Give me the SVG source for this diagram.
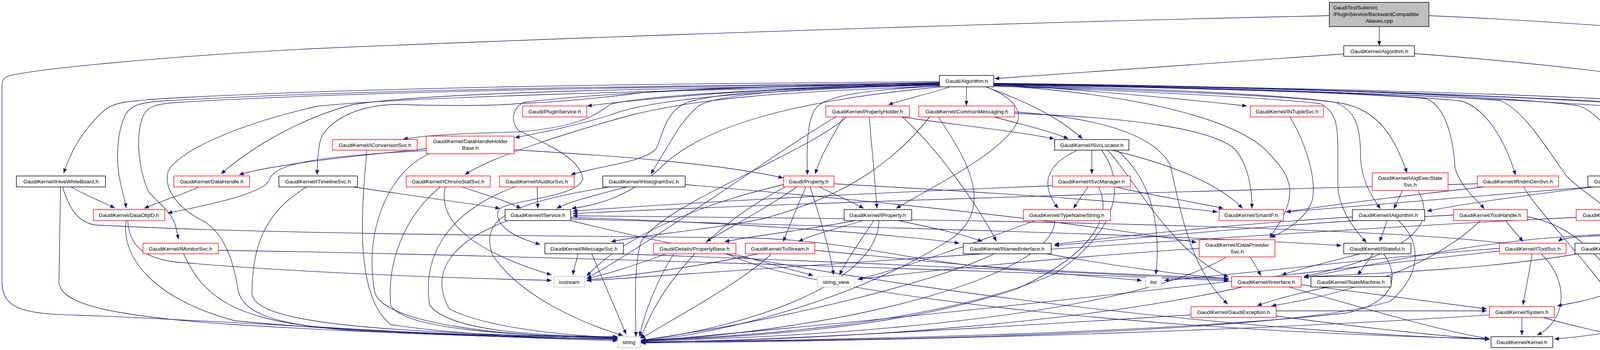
<svg xmlns="http://www.w3.org/2000/svg" width="4857" height="895" viewBox="0 0 4857 895">
<style>
.e{fill:none;stroke:#191970;stroke-width:1.3;marker-end:url(#a)}
.nb rect{fill:#fff;stroke:#000;stroke-width:1.4}
.nr rect{fill:#fff;stroke:#ff0000;stroke-width:1.4}
.ng rect{fill:#fff;stroke:#bfbfbf;stroke-width:1.4}
.nm rect{fill:#bfbfbf;stroke:#000;stroke-width:1.4}
text{font-family:"Liberation Sans",Arial,Helvetica,sans-serif;font-size:13.6px;fill:#000;text-anchor:middle}
text.l{text-anchor:start}
</style>
<defs>
<marker id="a" viewBox="0 0 12 10" refX="12" refY="5" markerWidth="12" markerHeight="10" orient="auto" markerUnits="userSpaceOnUse"><path d="M0,0 L12,5 L0,10 z" fill="#191970"/></marker>
</defs>
<rect x="0" y="0" width="4857" height="895" fill="#fff"/>
<g id="connectors">
<path class="e" d="M3531,68 L3531,117"/>
<path class="e" d="M3403,40 C2500,60 1500,95 810,124 C400,145 60,180 20,195 C8,200 5,208 5,220 L5,720 C5,790 60,803 200,806 C600,820 1100,860 1581,871"/>
<path class="e" d="M3658,40 C4000,55 4500,90 4700,130 C4820,158 4854,190 4854,235 L4854,730 C4854,790 4800,812 4650,836 C4500,856 4350,866 4259,870"/>
<path class="e" d="M3440,138 C3100,160 2800,185 2546,201"/>
<path class="e" d="M3621,137 C4000,165 4450,220 4515,262 C4535,280 4538,300 4538,330 L4538,400 C4540,450 4568,500 4582,535"/>
<path class="e" d="M2405,211 C2100,220 1750,240 1503,271"/>
<path class="e" d="M2432,222 C2380,240 2320,252 2274,268"/>
<path class="e" d="M2474,222 L2474,270"/>
<path class="e" d="M2544,215 C2800,232 3000,250 3192,271"/>
<path class="e" d="M2405,215 C1900,228 1620,248 1560,268 C1520,300 1470,325 1330,337 C1200,341 1100,344 1032,356"/>
<path class="e" d="M2405,217 C1900,232 1660,255 1560,295 C1460,325 1380,340 1318,352"/>
<path class="e" d="M2523,222 C2600,250 2700,290 2771,355"/>
<path class="e" d="M2544,217 C2900,225 3300,240 3440,265 C3530,285 3570,350 3602,442"/>
<path class="e" d="M2405,209 C1600,214 900,225 420,252 C330,258 290,262 270,280 C212,330 180,390 163,443"/>
<path class="e" d="M2405,216 C1700,225 1100,235 900,268 C780,300 650,370 566,445"/>
<path class="e" d="M2405,212 C2000,220 1700,228 1620,240 C1500,255 1400,262 1326,265 C1250,272 1100,270 1017,267 C900,268 830,320 820,360 C813,390 812,420 812,447"/>
<path class="e" d="M2405,220 C2000,235 1800,250 1620,293 C1450,340 1260,400 1190,447"/>
<path class="e" d="M2405,214 C2000,225 1780,240 1740,272 C1700,300 1695,350 1680,380 C1650,415 1530,425 1461,447"/>
<path class="e" d="M2405,216 C2000,225 1830,245 1790,270 C1740,310 1720,360 1666,445"/>
<path class="e" d="M2405,220 C2250,228 2120,240 2090,275 C2065,305 2065,380 2067,447"/>
<path class="e" d="M2544,214 C3000,222 3500,235 3740,258 C3800,275 3850,350 3880,448"/>
<path class="e" d="M2544,213 C3200,222 3800,240 4040,270 C4100,290 4150,370 4169,447"/>
<path class="e" d="M2405,212 C1600,220 900,230 420,258 C360,262 335,268 320,295 C300,340 297,400 305,450 C312,490 320,510 323,532"/>
<path class="e" d="M2410,222 C2000,260 1800,330 1700,420 C1640,480 1560,522 1463,533"/>
<path class="e" d="M2523,222 C2600,250 2620,290 2600,320 C2560,390 2420,460 2294,533"/>
<path class="e" d="M2544,219 C2900,228 3300,245 3420,262 C3470,285 3483,320 3483,400 C3485,460 3510,500 3534,534"/>
<path class="e" d="M2544,220 C2900,232 3250,250 3380,265 C3420,285 3425,320 3425,380 L3425,480 C3430,540 3470,590 3498,620"/>
<path class="e" d="M2544,216 C3000,224 3450,236 3650,252 C3700,270 3720,350 3725,430 C3740,480 3780,510 3800,534"/>
<path class="e" d="M2544,215 C3000,222 3600,238 3840,257 C3900,280 3960,380 4010,450 C4050,490 4090,510 4112,534"/>
<path class="e" d="M2405,214 C1600,222 900,235 450,262 C400,266 375,272 365,300 C350,340 350,420 380,490 C405,520 440,540 450,580 L457,612"/>
<path class="e" d="M2405,213 C1900,220 1500,240 1340,262 C1305,280 1310,320 1330,335 C1400,370 1480,400 1492,455 C1490,500 1330,510 1285,530 C1260,545 1270,595 1383,625"/>
<path class="e" d="M2544,218 C2900,240 3150,300 3240,383 C3275,420 3302,450 3302,490 C3300,545 3265,585 3250,608"/>
<path class="e" d="M2544,216 C3200,225 3900,250 4250,282 C4312,300 4330,340 4330,400 L4330,520 C4330,580 4200,600 4050,605 C4010,607 3996,612 3989,618"/>
<path class="e" d="M2544,215 C3200,222 3950,245 4300,275 C4360,292 4380,330 4380,400 L4380,470 C4380,540 4270,585 4200,618"/>
<path class="e" d="M2544,214 C3200,221 4000,240 4360,268 C4420,285 4431,330 4431,400 L4431,480 C4431,620 4250,720 4050,770 C4020,776 4000,780 3986,782"/>
<path class="e" d="M2544,213 C3300,220 4000,252 4360,273 C4500,275 4580,248 4680,252 C4770,256 4804,290 4804,350 L4804,740 C4804,800 4720,825 4600,840 C4450,858 4330,866 4259,870"/>
<path class="e" d="M2405,218 C1700,230 1000,250 810,272 C600,320 450,390 430,440 C420,480 450,530 520,565 C580,600 600,680 610,745 C625,800 700,830 900,845 C1200,860 1450,866 1581,868"/>
<path class="e" d="M2307,299 C2450,320 2600,335 2699,355"/>
<path class="e" d="M2160,299 C2130,350 2100,400 2087,445"/>
<path class="e" d="M2225,299 C2232,380 2240,460 2245,533"/>
<path class="e" d="M2140,299 C2000,380 1700,600 1502,712"/>
<path class="e" d="M2168,299 C2050,400 1700,520 1640,620 C1620,700 1628,800 1628,861"/>
<path class="e" d="M2310,299 C2400,380 2500,520 2551,617"/>
<path class="e" d="M2545,299 C2620,320 2690,335 2735,355"/>
<path class="e" d="M2597,290 C2900,300 3100,330 3160,380 C3195,420 3205,480 3205,533"/>
<path class="e" d="M2597,286 C2800,300 2950,340 2995,420 C3020,520 3040,680 3143,778"/>
<path class="e" d="M2380,299 C2300,400 2180,500 1950,560 C1800,590 1650,600 1564,618"/>
<path class="e" d="M2402,299 C2470,400 2560,540 2420,620 C2200,760 1850,855 1641,872"/>
<path class="e" d="M3302,299 C3340,360 3370,450 3360,510 C3345,560 3290,590 3253,608"/>
<path class="e" d="M939,384 C930,500 900,750 1000,830 C1200,860 1450,866 1581,866"/>
<path class="e" d="M1091,380 C900,400 700,420 612,447"/>
<path class="e" d="M1091,385 C800,400 700,420 690,460 C670,500 500,530 429,545"/>
<path class="e" d="M1316,383 C1600,400 1850,420 2005,455"/>
<path class="e" d="M1100,393 C990,440 930,600 960,750 C990,830 1300,862 1581,864"/>
<path class="e" d="M182,478 C220,500 260,515 294,532"/>
<path class="e" d="M160,478 C180,540 200,565 240,575 C600,595 1200,602 1900,608 C2150,612 2300,660 2500,680 C2800,700 3000,705 3145,712"/>
<path class="e" d="M155,478 L151,720 C150,780 300,810 600,830 C1000,855 1400,865 1581,866"/>
<path class="e" d="M510,478 C460,500 410,515 369,533"/>
<path class="e" d="M905,478 C1050,500 1200,520 1280,533"/>
<path class="e" d="M785,478 C700,530 645,600 645,750 C650,820 900,850 1581,864"/>
<path class="e" d="M1182,478 C1250,500 1300,515 1334,533"/>
<path class="e" d="M1127,478 C1050,540 990,650 1000,780 C1030,840 1300,860 1581,862"/>
<path class="e" d="M1140,478 C1120,560 1200,640 1412,703"/>
<path class="e" d="M1375,478 L1377,533"/>
<path class="e" d="M1318,478 C1150,540 1080,650 1100,780 C1150,850 1400,860 1581,861"/>
<path class="e" d="M1605,478 C1520,500 1460,515 1425,533"/>
<path class="e" d="M1754,472 C2200,510 2700,560 3063,620"/>
<path class="e" d="M1560,478 C1300,520 1230,560 1260,650 C1330,760 1500,830 1595,858"/>
<path class="e" d="M2040,478 C1950,540 1870,580 1808,618"/>
<path class="e" d="M2063,478 C2040,530 2020,580 2005,618"/>
<path class="e" d="M2074,478 C2100,560 2125,640 2134,703"/>
<path class="e" d="M2098,478 C2140,500 2180,515 2211,533"/>
<path class="e" d="M2135,470 C2500,490 2900,515 3117,542"/>
<path class="e" d="M2006,472 C1800,520 1600,600 1502,706"/>
<path class="e" d="M2010,478 C1850,560 1700,700 1640,866"/>
<path class="e" d="M2190,564 C2050,590 1950,600 1855,618"/>
<path class="e" d="M2210,564 C2140,585 2080,600 2044,618"/>
<path class="e" d="M2237,564 C2200,620 2170,660 2149,703"/>
<path class="e" d="M2250,564 C2250,700 2000,820 1641,872"/>
<path class="e" d="M2300,564 C2400,585 2470,600 2515,618"/>
<path class="e" d="M2795,384 L2795,445"/>
<path class="e" d="M2758,384 C2680,420 2660,470 2709,533"/>
<path class="e" d="M2845,384 C3000,420 3120,470 3181,533"/>
<path class="e" d="M2860,384 C2960,470 2970,600 2959,702"/>
<path class="e" d="M2835,384 C2900,450 3000,650 3145,708"/>
<path class="e" d="M2820,384 C2890,480 2850,600 2700,700 C2400,830 1900,862 1641,870"/>
<path class="e" d="M2785,478 C2772,498 2760,515 2748,533"/>
<path class="e" d="M2855,478 C2950,500 3050,515 3132,533"/>
<path class="e" d="M2694,475 C2300,490 1800,515 1466,540"/>
<path class="e" d="M2812,478 C2850,550 2800,650 2600,740 C2300,840 1900,865 1641,870"/>
<path class="e" d="M3590,487 C3582,505 3575,520 3568,534"/>
<path class="e" d="M3630,487 C3670,560 3650,640 3338,707"/>
<path class="e" d="M3800,478 C3600,500 3400,525 3292,542"/>
<path class="e" d="M3782,470 C3000,490 2000,520 1466,546"/>
<path class="e" d="M3900,478 C3950,560 4100,700 4196,865"/>
<path class="e" d="M4160,478 C4155,500 4150,515 4146,534"/>
<path class="e" d="M4080,478 C3900,500 3750,520 3653,540"/>
<path class="e" d="M4075,478 C3800,500 3500,525 3292,542"/>
<path class="e" d="M4282,477 C4600,490 4750,520 4760,600 L4760,790 C4740,840 4400,862 4259,870"/>
<path class="e" d="M4200,478 C4300,530 4260,590 4100,600 C3800,610 3500,680 3338,710"/>
<path class="e" d="M4215,564 C4330,580 4420,600 4466,618"/>
<path class="e" d="M4035,556 C3500,580 2500,650 1502,718"/>
<path class="e" d="M4575,564 C4555,585 4540,600 4523,618"/>
<path class="e" d="M4590,564 C4580,700 4400,830 3979,867"/>
<path class="e" d="M3922,649 C3915,700 3905,740 3899,780"/>
<path class="e" d="M3945,649 C4020,720 4010,820 3935,857"/>
<path class="e" d="M3839,635 C3500,660 3200,700 2980,717"/>
<path class="e" d="M3839,642 C3300,700 2500,800 1641,873"/>
<path class="e" d="M3850,622 C3500,580 2500,560 1466,552"/>
<path class="e" d="M4040,649 C3800,690 3500,700 3338,708"/>
<path class="e" d="M559,640 C1200,650 2500,690 3145,718"/>
<path class="e" d="M470,649 C520,760 600,810 800,835 C1100,855 1400,862 1581,862"/>
<path class="e" d="M323,564 C310,650 380,760 600,820 C900,850 1300,860 1581,868"/>
<path class="e" d="M327,564 C330,620 360,660 450,670 C800,700 1200,712 1412,717"/>
<path class="e" d="M1300,564 C1150,620 1100,700 1150,790 C1250,840 1450,858 1581,863"/>
<path class="e" d="M1461,556 C1900,570 2300,600 2456,622"/>
<path class="e" d="M1461,560 C2200,580 3000,600 3434,628"/>
<path class="e" d="M1461,564 C2000,700 3000,840 3813,868"/>
<path class="e" d="M1480,649 C1475,670 1470,685 1466,703"/>
<path class="e" d="M1515,649 C1550,730 1580,800 1603,855"/>
<path class="e" d="M1580,649 C2200,670 2800,700 3145,715"/>
<path class="e" d="M1880,649 C1950,670 2030,690 2082,705"/>
<path class="e" d="M1705,649 C1620,680 1560,700 1502,712"/>
<path class="e" d="M1725,649 C1680,720 1650,800 1637,860"/>
<path class="e" d="M1860,649 C2100,760 3000,850 3813,866"/>
<path class="e" d="M1975,649 C1900,720 1750,800 1640,866"/>
<path class="e" d="M1940,649 C1800,680 1650,700 1502,716"/>
<path class="e" d="M2086,640 C2500,680 2700,700 2923,717"/>
<path class="e" d="M2680,649 C2850,680 3000,700 3145,713"/>
<path class="e" d="M2545,649 C2400,720 2000,820 1641,870"/>
<path class="e" d="M3200,657 C3212,675 3220,690 3228,705"/>
<path class="e" d="M3140,657 C2900,800 2200,860 1641,872"/>
<path class="e" d="M3070,635 C2700,660 2400,690 2196,714"/>
<path class="e" d="M3515,649 C3500,670 3488,688 3475,703"/>
<path class="e" d="M3482,649 C3400,670 3320,690 3281,703"/>
<path class="e" d="M3542,649 C3580,700 3580,770 3450,800 C3000,850 2200,870 1641,874"/>
<path class="e" d="M3550,564 C3545,585 3538,600 3532,618"/>
<path class="e" d="M3462,555 C3200,570 2900,600 2699,625"/>
<path class="e" d="M3580,564 C3640,620 3640,700 3560,770 C3300,850 2300,872 1641,874"/>
<path class="e" d="M3855,564 C3870,585 3885,600 3899,618"/>
<path class="e" d="M3721,550 C3300,570 2900,610 2699,628"/>
<path class="e" d="M3790,564 C3650,700 3400,760 3255,782"/>
<path class="e" d="M3910,554 C4050,580 4150,700 4200,862"/>
<path class="e" d="M3331,728 C3500,750 3700,775 3806,790"/>
<path class="e" d="M3300,734 C3500,790 3700,850 3813,866"/>
<path class="e" d="M3180,734 C2800,820 2200,870 1641,874"/>
<path class="e" d="M3400,734 C3320,750 3250,770 3218,782"/>
<path class="e" d="M3267,795 C3500,795 3700,795 3806,795"/>
<path class="e" d="M3049,805 C2500,840 2000,870 1641,876"/>
<path class="e" d="M3267,808 C3500,840 3700,860 3813,868"/>
<path class="e" d="M3896,812 L3896,857"/>
<path class="e" d="M3813,805 C3300,840 2500,870 1641,877"/>
<path class="e" d="M3950,812 C4050,840 4150,860 4196,868"/>
<path class="e" d="M2700,564 C2700,700 2200,840 1641,873"/>
<path class="e" d="M2650,564 C2500,620 2300,690 2196,714"/>
</g>
<g id="n_main" class="nm"><rect x="3403" y="6" width="255" height="62"/><text class="l" x="3413" y="24">GaudiTestSuite/src</text><text class="l" x="3413" y="41">/PluginService/BackwardCompatible</text><text x="3531" y="58">Aliases.cpp</text></g>
<g id="n_gk_algorithm" class="nb"><rect x="3440" y="117" width="181" height="27"/><text x="3531" y="136">GaudiKernel/Algorithm.h</text></g>
<g id="n_gaudi_algorithm" class="nb"><rect x="2405" y="193" width="139" height="29"/><text x="2475" y="212">Gaudi/Algorithm.h</text></g>
<g id="n_pluginservice" class="nr"><rect x="1338" y="271" width="164" height="28"/><text x="1420" y="290">Gaudi/PluginService.h</text></g>
<g id="n_propertyholder" class="nr"><rect x="2114" y="271" width="214" height="28"/><text x="2221" y="290">GaudiKernel/PropertyHolder.h</text></g>
<g id="n_commonmessaging" class="nr"><rect x="2352" y="271" width="245" height="28"/><text x="2475" y="290">GaudiKernel/CommonMessaging.h</text></g>
<g id="n_intuplesvc" class="nr"><rect x="3201" y="271" width="187" height="28"/><text x="3295" y="290">GaudiKernel/INTupleSvc.h</text></g>
<g id="n_iconversionsvc" class="nr"><rect x="851" y="357" width="217" height="27"/><text x="960" y="376">GaudiKernel/IConversionSvc.h</text></g>
<g id="n_datahandleholderbase" class="nr"><rect x="1091" y="348" width="225" height="45"/><text x="1204" y="366">GaudiKernel/DataHandleHolder</text><text x="1204" y="383">Base.h</text></g>
<g id="n_isvclocator" class="nb"><rect x="2700" y="357" width="190" height="27"/><text x="2795" y="376">GaudiKernel/ISvcLocator.h</text></g>
<g id="n_ialgexecstatesvc" class="nr"><rect x="3513" y="442" width="194" height="45"/><text x="3610" y="460">GaudiKernel/IAlgExecState</text><text x="3610" y="477">Svc.h</text></g>
<g id="n_ihivewhiteboard" class="nb"><rect x="42" y="450" width="228" height="28"/><text x="156" y="469">GaudiKernel/IHiveWhiteBoard.h</text></g>
<g id="n_datahandle" class="nr"><rect x="445" y="450" width="194" height="28"/><text x="542" y="469">GaudiKernel/DataHandle.h</text></g>
<g id="n_itimelinesvc" class="nb"><rect x="714" y="450" width="201" height="28"/><text x="814" y="469">GaudiKernel/ITimelineSvc.h</text></g>
<g id="n_ichronostatsvc" class="nr"><rect x="1040" y="450" width="215" height="28"/><text x="1147" y="469">GaudiKernel/IChronoStatSvc.h</text></g>
<g id="n_iauditorsvc" class="nr"><rect x="1279" y="450" width="191" height="28"/><text x="1374" y="469">GaudiKernel/IAuditorSvc.h</text></g>
<g id="n_ihistogramsvc" class="nb"><rect x="1543" y="450" width="211" height="28"/><text x="1648" y="469">GaudiKernel/IHistogramSvc.h</text></g>
<g id="n_property" class="nr"><rect x="2006" y="450" width="129" height="28"/><text x="2070" y="469">Gaudi/Property.h</text></g>
<g id="n_isvcmanager" class="nr"><rect x="2694" y="450" width="200" height="28"/><text x="2794" y="469">GaudiKernel/ISvcManager.h</text></g>
<g id="n_irndmgensvc" class="nr"><rect x="3782" y="450" width="208" height="28"/><text x="3886" y="469">GaudiKernel/IRndmGenSvc.h</text></g>
<g id="n_ialgcontextsvc" class="nb"><rect x="4065" y="450" width="217" height="28"/><text x="4173" y="469">GaudiKernel/IAlgContextSvc.h</text></g>
<g id="n_dataobjid" class="nr"><rect x="239" y="536" width="183" height="28"/><text x="330" y="555">GaudiKernel/DataObjID.h</text></g>
<g id="n_iservice" class="nb"><rect x="1293" y="536" width="168" height="28"/><text x="1377" y="555">GaudiKernel/IService.h</text></g>
<g id="n_iproperty" class="nb"><rect x="2161" y="536" width="173" height="28"/><text x="2247" y="555">GaudiKernel/IProperty.h</text></g>
<g id="n_typenamestring" class="nr"><rect x="2620" y="536" width="223" height="28"/><text x="2731" y="555">GaudiKernel/TypeNameString.h</text></g>
<g id="n_smartif" class="nr"><rect x="3121" y="536" width="165" height="28"/><text x="3203" y="555">GaudiKernel/SmartIF.h</text></g>
<g id="n_ialgorithm" class="nb"><rect x="3462" y="536" width="185" height="28"/><text x="3554" y="555">GaudiKernel/IAlgorithm.h</text></g>
<g id="n_toolhandle" class="nr"><rect x="3721" y="536" width="189" height="28"/><text x="3815" y="555">GaudiKernel/ToolHandle.h</text></g>
<g id="n_eventcontext" class="nr"><rect x="4035" y="536" width="206" height="28"/><text x="4138" y="555">GaudiKernel/EventContext.h</text></g>
<g id="n_threadlocalcontext" class="nb"><rect x="4468" y="536" width="248" height="28"/><text x="4592" y="555">GaudiKernel/ThreadLocalContext.h</text></g>
<g id="n_imonitorsvc" class="nr"><rect x="366" y="622" width="193" height="27"/><text x="462" y="641">GaudiKernel/IMonitorSvc.h</text></g>
<g id="n_imessagesvc" class="nb"><rect x="1395" y="622" width="201" height="27"/><text x="1495" y="641">GaudiKernel/IMessageSvc.h</text></g>
<g id="n_propertybase" class="nr"><rect x="1673" y="622" width="211" height="27"/><text x="1778" y="641">Gaudi/Details/PropertyBase.h</text></g>
<g id="n_tostream" class="nr"><rect x="1908" y="622" width="178" height="27"/><text x="1997" y="641">GaudiKernel/ToStream.h</text></g>
<g id="n_inamedinterface" class="nb"><rect x="2466" y="622" width="225" height="27"/><text x="2578" y="641">GaudiKernel/INamedInterface.h</text></g>
<g id="n_idataprovidersvc" class="nr"><rect x="3070" y="613" width="194" height="44"/><text x="3167" y="631">GaudiKernel/IDataProvider</text><text x="3167" y="648">Svc.h</text></g>
<g id="n_istateful" class="nb"><rect x="3440" y="622" width="172" height="27"/><text x="3526" y="641">GaudiKernel/IStateful.h</text></g>
<g id="n_itoolsvc" class="nr"><rect x="3839" y="622" width="170" height="27"/><text x="3924" y="641">GaudiKernel/IToolSvc.h</text></g>
<g id="n_iexceptionsvc" class="nb"><rect x="4032" y="622" width="208" height="27"/><text x="4136" y="641">GaudiKernel/IExceptionSvc.h</text></g>
<g id="n_cstddef" class="ng"><rect x="4468" y="622" width="69" height="27"/><text x="4502" y="641">cstddef</text></g>
<g id="n_iostream" class="ng"><rect x="1418" y="707" width="79" height="27"/><text x="1457" y="726">iostream</text></g>
<g id="n_string_view" class="ng"><rect x="2092" y="707" width="96" height="27"/><text x="2140" y="726">string_view</text></g>
<g id="n_list" class="ng"><rect x="2933" y="707" width="41" height="27"/><text x="2953" y="726">list</text></g>
<g id="n_iinterface" class="nr"><rect x="3153" y="707" width="178" height="27"/><text x="3242" y="726">GaudiKernel/IInterface.h</text></g>
<g id="n_statemachine" class="nb"><rect x="3356" y="707" width="205" height="27"/><text x="3458" y="726">GaudiKernel/StateMachine.h</text></g>
<g id="n_gaudiexception" class="nr"><rect x="3049" y="784" width="218" height="28"/><text x="3158" y="803">GaudiKernel/GaudiException.h</text></g>
<g id="n_system" class="nr"><rect x="3813" y="784" width="166" height="28"/><text x="3896" y="803">GaudiKernel/System.h</text></g>
<g id="n_string" class="ng"><rect x="1581" y="861" width="59" height="28"/><text x="1610" y="880">string</text></g>
<g id="n_kernel" class="nb"><rect x="3817" y="861" width="158" height="28"/><text x="3896" y="880">GaudiKernel/Kernel.h</text></g>
<g id="n_vector" class="ng"><rect x="4196" y="861" width="62" height="28"/><text x="4227" y="880">vector</text></g>
</svg>
